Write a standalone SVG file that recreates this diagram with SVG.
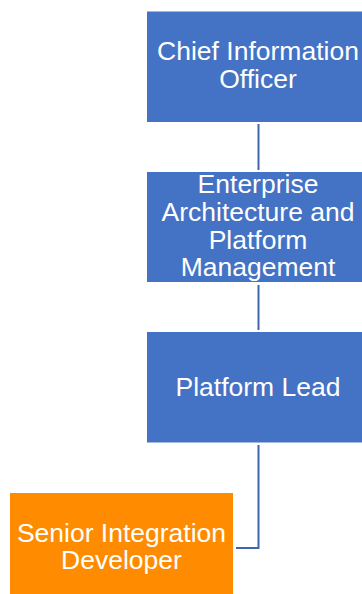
<svg xmlns="http://www.w3.org/2000/svg" width="362" height="594" viewBox="0 0 362 594">
<style>
.blue{fill:#4472C4}
.orange{fill:#FF8C00}
.t{font-family:"Liberation Sans",Arial,sans-serif;font-size:26.5px;fill:#ffffff;text-anchor:middle}
.c{fill:none;stroke:#4065B0;stroke-width:2}
</style>
<rect width="362" height="594" fill="#ffffff"/>
<g id="connectors">
<line class="c" x1="258.5" y1="124" x2="258.5" y2="170"/>
<line class="c" x1="258.5" y1="285" x2="258.5" y2="330"/>
<polyline class="c" points="258.5,445 258.5,548 236,548"/>
</g>
<g id="cio">
<rect class="blue" x="147" y="11.5" width="222" height="110.5"/>
<text class="t" x="258" y="60">Chief Information</text>
<text class="t" x="258" y="88">Officer</text>
</g>
<g id="eapm">
<rect class="blue" x="147" y="172" width="222" height="110"/>
<text class="t" x="258" y="193">Enterprise</text>
<text class="t" x="258" y="221">Architecture and</text>
<text class="t" x="258" y="248.5">Platform</text>
<text class="t" x="258" y="276">Management</text>
</g>
<g id="platform-lead">
<rect class="blue" x="147" y="332" width="222" height="110.5"/>
<text class="t" x="258" y="396">Platform Lead</text>
</g>
<g id="senior-dev">
<rect class="orange" x="10" y="493" width="223" height="110"/>
<text class="t" x="121.5" y="541.5">Senior Integration</text>
<text class="t" x="121.5" y="569">Developer</text>
</g>
</svg>
